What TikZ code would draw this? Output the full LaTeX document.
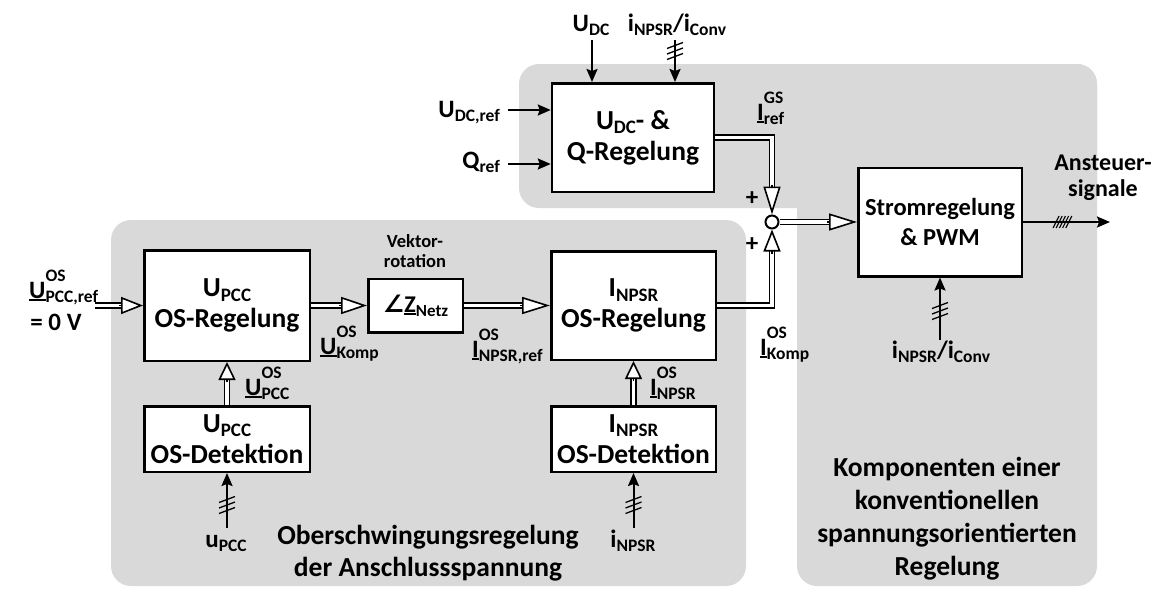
\documentclass[tikz,border=0pt]{standalone}
\usepackage{fontspec}
\setmainfont{Carlito}
\newfontfamily\djv{DejaVu Sans}
\usetikzlibrary{arrows.meta,calc}
\definecolor{rg}{HTML}{D9D9D9}
\def\ssz{16}
\newcommand\sub[1]{\raisebox{-0.17em}{\fontsize{\ssz}{\ssz}\selectfont #1}}
\newcommand\sps[3]{#1\rlap{\raisebox{0.68em}{\fontsize{\ssz}{\ssz}\selectfont #2}}\sub{#3}}
\newcommand\phs[1]{\vtop{\hbox{#1}\kern1.3pt\hrule height 1.9pt}}
\tikzset{
  blk/.style={draw, line width=2.5pt, fill=white, align=center, inner sep=0pt,
    font=\bfseries\fontsize{27.5}{31}\selectfont\def\ssz{19}},
  lbl/.style={inner sep=0pt, font=\bfseries\fontsize{25}{27}\selectfont\def\ssz{17.5}},
  sig/.style={line width=2pt, -{Stealth[length=13pt,width=11pt,inset=2pt]}},
  dbl/.style={draw, line width=1.6pt, double=white, double distance=3.4pt, line join=miter},
  htip/.style={line width=1.6pt, -{Triangle[length=#1,width=17pt,fill=white]}},
  region/.style={fill=rg, rounded corners=20pt},
  sl/.style={line width=1.3pt},
}
\newcommand\darr[3][22]{%
  \draw[dbl] (#2) -- ($(#3)!#1pt-2pt!(#2)$);
  \draw[htip=#1pt] ($(#3)!#1pt+2pt!(#2)$) -- (#3);}
\newcommand\tri[2]{\foreach \k in {-5.5,0,5.5}{\draw[sl] (#1-8,#2+\k+3) -- (#1+8,#2+\k-3);}}
\begin{document}
\begin{tikzpicture}[x=1pt,y=-1pt]
\useasboundingbox (0,0) rectangle (1159,589);
% regions
\fill[region] (519,64) rectangle (1097,208);
\fill[region] (797,64) rectangle (1097,586);
\fill[region] (111,220) rectangle (746,586);
% blocks
\node[blk, minimum width=162pt, minimum height=108.5pt] (udc) at (633,137.5) {U\sub{DC}-~\&\\Q-Regelung};
\node[blk, minimum width=163.5pt, minimum height=108.5pt, font=\bfseries\fontsize{24.5}{30}\selectfont] (strom) at (940,222) {Stromregelung\\\& PWM};
\node[blk, minimum width=165.5pt, minimum height=110.5pt] (upccreg) at (227,305.5) {U\sub{PCC}\\OS-Regelung};
\node[blk, minimum width=94.5pt, minimum height=53.5pt, font=\bfseries\fontsize{24}{26}\selectfont\def\ssz{17}] (znetz) at (415.5,305.5) {{\djv ∠}\phs{Z}\sub{Netz}};
\node[blk, minimum width=164.5pt, minimum height=108.5pt] (inpsreg) at (633.5,305.5) {I\sub{NPSR}\\OS-Regelung};
\node[blk, minimum width=165.5pt, minimum height=65.5pt] (upccdet) at (227,439) {U\sub{PCC}\\OS-Detektion};
\node[blk, minimum width=164.5pt, minimum height=65.5pt] (inpsdet) at (633.5,439) {I\sub{NPSR}\\OS-Detektion};
\node[draw, circle, line width=2pt, fill=white, minimum size=13pt, inner sep=0pt] (sum) at (772,222) {};
% single signal inputs
\coordinate (udcin) at (592,40);
\coordinate (itopin) at (675,40);
\coordinate (udcrefin) at (508,110);
\coordinate (qrefin) at (508,164);
\coordinate (sbotin) at (940,340);
\coordinate (sout) at (1110,222);
\coordinate (upccin) at (227,528);
\coordinate (inpsin) at (633.5,528);
\draw[sig] (udcin) -- (udcin |- udc.north);
\draw[sig] (itopin) -- (itopin |- udc.north);
\draw[sig] (udcrefin) -- (udcrefin -| udc.west);
\draw[sig] (qrefin) -- (qrefin -| udc.west);
\draw[sig] (sbotin) -- (strom.south);
\draw[sig] (strom.east) -- (sout);
\draw[sig] (upccin) -- (upccdet.south);
\draw[sig] (inpsin) -- (inpsdet.south);
\tri{675}{51}
\tri{940}{311}
\tri{227}{505}
\tri{633.5}{505}
\foreach \k in {0,...,4}{\draw[line width=1.1pt] (1053+3.2*\k,228) -- (1059+3.2*\k,216);}
% double (vector) connectors
\coordinate (urefin) at (95,305.5);
\darr{urefin}{upccreg.west}
\darr[26]{upccreg.east}{znetz.west}
\darr[28]{znetz.east}{inpsreg.west}
\darr[18]{upccdet.north}{upccreg.south}
\darr[18]{inpsdet.north}{inpsreg.south}
\darr[28]{sum.east}{strom.west}
\coordinate (c1) at (sum.north |- udc.east);
\draw[dbl] (udc.east) -- (c1) -- ($(sum.north)!26pt!(c1)$);
\draw[htip=28pt] ($(sum.north)!30pt!(c1)$) -- (sum.north);
\coordinate (c2) at (sum.south |- inpsreg.east);
\draw[dbl] (inpsreg.east) -- (c2) -- ($(sum.south)!20pt!(c2)$);
\draw[htip=22pt] ($(sum.south)!24pt!(c2)$) -- (sum.south);
% labels
\node[lbl, anchor=base] (lUdc) at (591,31) {U\sub{DC}};
\node[lbl, anchor=base] (lItop) at (677,31) {i\sub{NPSR}/i\sub{Conv}};
\node[lbl, anchor=base east] (lUdcref) at (500,117) {U\sub{DC,ref}};
\node[lbl, anchor=base east] (lQref) at (500,168) {Q\sub{ref}};
\node[lbl, anchor=base west] (lIgs) at (757,120) {\sps{\phs{I}}{GS}{ref}};
\node[lbl, anchor=base west] (lUref) at (29,298) {\sps{\phs{U}}{OS}{PCC,ref}};
\node[lbl, anchor=base] (lzero) at (56,330) {= 0 V};
\node[lbl, anchor=base west] (lUkomp) at (320,354) {\sps{\phs{U}}{OS}{Komp}};
\node[lbl, anchor=base west] (lUpcc) at (245,395) {\sps{\phs{U}}{OS}{PCC}};
\node[inner sep=0pt, align=center, font=\bfseries\fontsize{18.5}{20}\selectfont] (lvek) at (415,251) {Vektor-\\rotation};
\node[lbl, anchor=base west] (lInref) at (472,357) {\sps{\phs{I}}{OS}{NPSR,ref}};
\node[lbl, anchor=base west] (lInps) at (650,395) {\sps{\phs{I}}{OS}{NPSR}};
\node[lbl, anchor=base west] (lIkomp) at (760,355) {\sps{\phs{I}}{OS}{Komp}};
\node[lbl] (p1) at (752,199) {+};
\node[lbl] (p2) at (752,245) {+};
\node[lbl, align=center, font=\bfseries\fontsize{24}{26}\selectfont] (lans) at (1103,178) {Ansteuer-\\signale};
\node[lbl, anchor=base] (lIbot) at (941,358) {i\sub{NPSR}/i\sub{Conv}};
\node[lbl, anchor=base] (lupcc) at (226,547) {u\sub{PCC}};
\node[lbl, anchor=base] (linps) at (633,547) {i\sub{NPSR}};
\node[inner sep=0pt, align=center, font=\bfseries\fontsize{27.5}{32}\selectfont] (regB) at (428,553) {Oberschwingungsregelung\\der Anschlussspannung};
\node[inner sep=0pt, align=center, font=\bfseries\fontsize{27.5}{33}\selectfont] (regA) at (947,519) {Komponenten einer\\konventionellen\\spannungsorientierten\\Regelung};
\end{tikzpicture}
\end{document}
